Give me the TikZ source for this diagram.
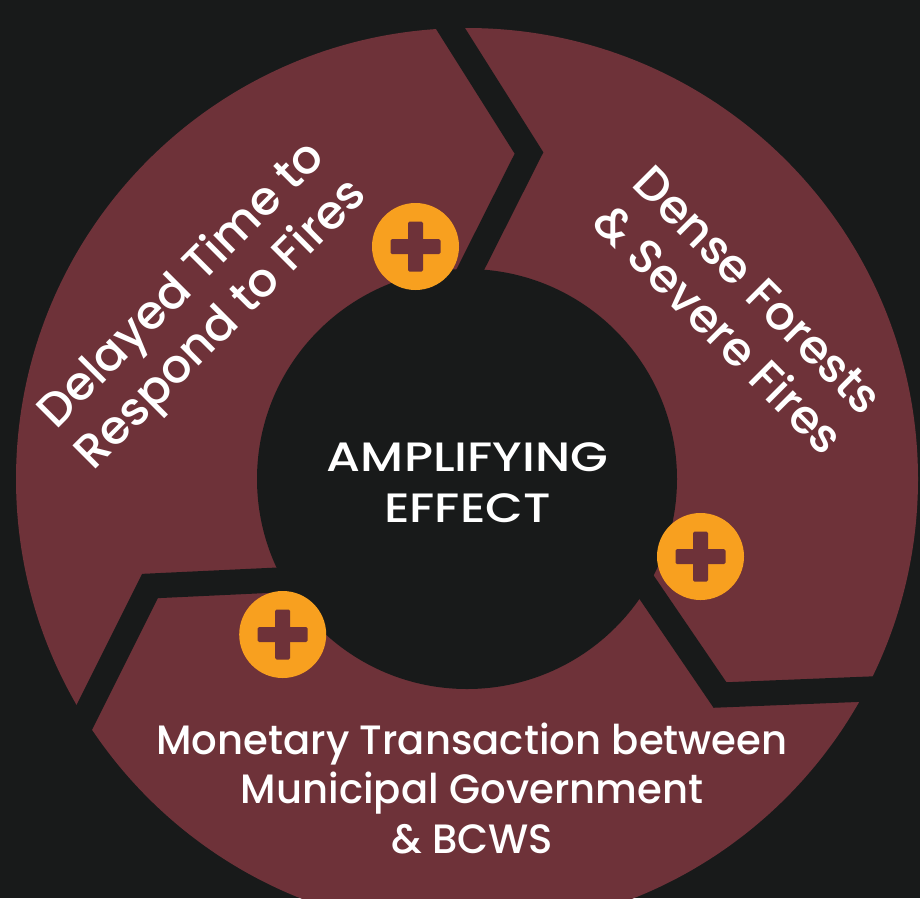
\documentclass[tikz,border=0pt]{standalone}
\usepackage{fontspec}
\setmainfont{Poppins}[UprightFont={* Medium}]
\definecolor{bgc}{HTML}{181A1A}
\definecolor{ringc}{HTML}{6E3239}
\definecolor{badgec}{HTML}{F8A01F}
\tikzset{
  gapline/.style={draw=bgc, line width=25pt, line join=miter, miter limit=20},
  badge/.style={circle, fill=badgec, minimum size=87pt, inner sep=0pt,
    path picture={
      \fill[ringc, rounded corners=1.5pt]
        ([xshift=-25pt,yshift=-7.5pt]path picture bounding box.center) rectangle
        ([xshift=25pt,yshift=7.5pt]path picture bounding box.center);
      \fill[ringc, rounded corners=1.5pt]
        ([xshift=-7.5pt,yshift=-25pt]path picture bounding box.center) rectangle
        ([xshift=7.5pt,yshift=25pt]path picture bounding box.center);
    }},
  lbl/.style={text=white, align=center, inner sep=0pt},
}
\begin{document}
\begin{tikzpicture}[x=1pt, y=-1pt]
  \useasboundingbox (0,0) rectangle (920,898);
  \fill[bgc] (0,0) rectangle (920,898);
  % ring
  \coordinate (c) at (467,479);
  \fill[ringc] (c) circle (451);
  \fill[bgc] (c) circle (210);
  % gaps (chevron separators)
  \coordinate (g1a) at (430,-4);
  \coordinate (g1t) at (529,153);
  \coordinate (g1b) at (455,300);
  \coordinate (g2a) at (613,538);
  \coordinate (g2t) at (720,695);
  \coordinate (g2b) at (943,686);
  \coordinate (g3a) at (320,578);
  \coordinate (g3t) at (150,586);
  \coordinate (g3b) at (60,766);
  \draw[gapline] (g1a) -- (g1t) -- (g1b);
  \draw[gapline] (g2a) -- (g2t) -- (g2b);
  \draw[gapline] (g3a) -- (g3t) -- (g3b);
  % badges
  \node[badge] (b1) at (415.5,246.5) {};
  \node[badge] (b2) at (700.5,556.5) {};
  \node[badge] (b3) at (282.7,634.5) {};
  % texts
  \node[lbl, xscale=1.19, font=\fontsize{41}{51}\selectfont] (amp) at (467.5,483) {AMPLIFYING\\EFFECT};
  \node[lbl, xscale=0.98, font=\fontsize{41}{49.5}\selectfont] (mon) at (472,788)
    {Monetary Transaction between\\Municipal Government\\\& BCWS};
  \node[lbl, rotate=45, font=\fontsize{47}{56}\selectfont] (del) at (203,306)
    {Delayed Time to\\Respond to Fires};
  \node[lbl, rotate=-45, font=\fontsize{47}{56}\selectfont] (den) at (738,310)
    {Dense Forests\\\& Severe Fires};
\end{tikzpicture}
\end{document}
